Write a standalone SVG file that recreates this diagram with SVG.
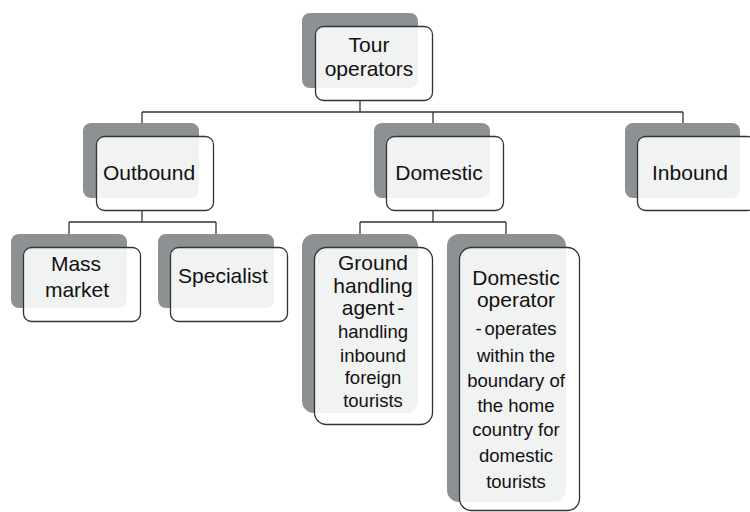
<svg xmlns="http://www.w3.org/2000/svg" width="750" height="512" viewBox="0 0 750 512">
  <style>
    .back { fill: #8e9193; }
    .front { fill: #ffffff; fill-opacity: 0.88; stroke: #333333; stroke-width: 1.3; }
    .link { fill: none; stroke: #333333; stroke-width: 1.3; }
    text { font-family: "Liberation Sans", Arial, sans-serif; fill: #111111; text-anchor: middle; }
    .lg { font-size: 21px; }
    .sm { font-size: 18.5px; }
  </style>
  <rect width="750" height="512" fill="#ffffff"/>

  <!-- tree connectors -->
  <g id="connectors">
    <path class="link" d="M360,101 V112 M142,112 H683 M142,112 V123 M433,112 V123 M683,112 V123"/>
    <path class="link" d="M142,211 V222 M69,222 H216 M69,222 V234 M216,222 V234"/>
    <path class="link" d="M433,211 V222 M360,222 H506 M360,222 V234 M506,222 V234"/>
  </g>

  <g id="tour-operators">
    <rect class="back" x="302" y="13" width="116" height="75" rx="8"/>
    <rect class="front" x="315.5" y="26.5" width="117" height="74" rx="8"/>
    <text class="lg" x="369" y="52">Tour</text>
    <text class="lg" x="369" y="76">operators</text>
  </g>

  <g id="outbound">
    <rect class="back" x="83" y="123" width="116" height="75" rx="8"/>
    <rect class="front" x="96.5" y="136.5" width="117" height="74" rx="8"/>
    <text class="lg" x="149" y="180">Outbound</text>
  </g>

  <g id="domestic">
    <rect class="back" x="374" y="123" width="116" height="75" rx="8"/>
    <rect class="front" x="386.5" y="136.5" width="117" height="74" rx="8"/>
    <text class="lg" x="439" y="180">Domestic</text>
  </g>

  <g id="inbound">
    <rect class="back" x="625" y="123" width="115" height="75" rx="8"/>
    <rect class="front" x="637.5" y="136.5" width="118" height="74" rx="8"/>
    <text class="lg" x="690" y="180">Inbound</text>
  </g>

  <g id="mass-market">
    <rect class="back" x="11" y="234" width="116" height="74" rx="8"/>
    <rect class="front" x="23.5" y="247.5" width="117" height="74" rx="8"/>
    <text class="lg" x="76" y="271">Mass</text>
    <text class="lg" x="77" y="297">market</text>
  </g>

  <g id="specialist">
    <rect class="back" x="158" y="234" width="116" height="74" rx="8"/>
    <rect class="front" x="170.5" y="247.5" width="117" height="74" rx="8"/>
    <text class="lg" x="223" y="283">Specialist</text>
  </g>

  <g id="ground-handling-agent">
    <rect class="back" x="302" y="234" width="116" height="179" rx="12"/>
    <rect class="front" x="314.5" y="247.5" width="118" height="177" rx="12"/>
    <text class="lg" x="373" y="270">Ground</text>
    <text class="lg" x="373" y="293">handling</text>
    <text class="lg" x="373" y="315">agent<tspan dx="3">-</tspan></text>
    <text class="sm" x="373" y="338">handling</text>
    <text class="sm" x="373" y="362">inbound</text>
    <text class="sm" x="373" y="384">foreign</text>
    <text class="sm" x="373" y="407">tourists</text>
  </g>

  <g id="domestic-operator">
    <rect class="back" x="447" y="234" width="119" height="268" rx="12"/>
    <rect class="front" x="459.5" y="247.5" width="120" height="263" rx="12"/>
    <text class="lg" x="516" y="285">Domestic</text>
    <text class="lg" x="516" y="307">operator</text>
    <text class="sm" x="516" y="335">-<tspan dx="3">operates</tspan></text>
    <text class="sm" x="516" y="362">within the</text>
    <text class="sm" x="516" y="387">boundary of</text>
    <text class="sm" x="516" y="412">the home</text>
    <text class="sm" x="516" y="436">country for</text>
    <text class="sm" x="516" y="462">domestic</text>
    <text class="sm" x="516" y="488">tourists</text>
  </g>
</svg>
